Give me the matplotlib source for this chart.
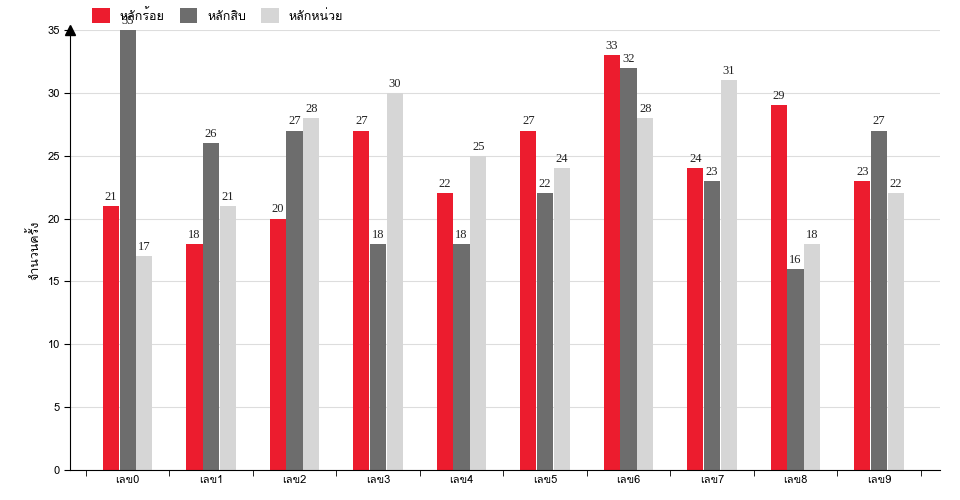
import numpy as np
import matplotlib.pyplot as plt
from matplotlib import font_manager
from matplotlib.ft2font import FT2Font

# find an installed family that has Thai glyphs
thai_family = None
for f in font_manager.fontManager.ttflist:
    try:
        if ord("ก") in FT2Font(f.fname).get_charmap():
            thai_family = f.name
            break
    except Exception:
        pass

families = ([thai_family] if thai_family else []) + ["Noto Sans", "DejaVu Sans"]
plt.rcParams['font.family'] = families

categories = ["เลข0", "เลข1", "เลข2", "เลข3", "เลข4", "เลข5", "เลข6", "เลข7", "เลข8", "เลข9"]
series_names = ["หลักร้อย", "หลักสิบ", "หลักหน่วย"]
hundreds = [21, 18, 20, 27, 22, 27, 33, 24, 29, 23]
tens = [35, 26, 27, 18, 18, 22, 32, 23, 16, 27]
units = [17, 21, 28, 30, 25, 24, 28, 31, 18, 22]
colors = ["#ec1c2e", "#6d6d6d", "#d6d6d6"]

fig = plt.figure(figsize=(9.6, 5.0), dpi=100)
ax = fig.add_axes([70 / 960, 30 / 500, 870 / 960, 440 / 500])

x = np.arange(len(categories))
w = 0.2
for i, (vals, c, name) in enumerate(zip([hundreds, tens, units], colors, series_names)):
    pos = x + (i - 1) * w
    ax.bar(pos, vals, width=w * 0.97, color=c, label=name, zorder=2)
    for p, v in zip(pos, vals):
        ax.text(p, v + 0.25, str(v), ha="center", va="bottom", fontsize=9,
                family="Liberation Serif", color="#222222", zorder=3)

ax.set_xlim(-0.69, len(categories) - 1 + 0.73)
ax.set_ylim(0, 35)
ax.set_yticks(range(0, 36, 5))
ax.set_xticks(x)
ax.set_xticklabels(categories, fontsize=8)
ax.tick_params(axis="y", labelsize=8, length=4)
ax.set_xticks(np.arange(-0.5, len(categories), 1), minor=True)
ax.tick_params(axis="x", which="minor", length=4)
ax.tick_params(axis="x", which="major", length=0)
ax.grid(axis="y", color="#dddddd", linewidth=0.8, zorder=0)
for s in ["top", "right"]:
    ax.spines[s].set_visible(False)
ax.set_ylabel("จำนวนครั้ง", fontsize=9)
ax.plot(0, 1.0, marker="^", color="black", markersize=7, transform=ax.transAxes,
        clip_on=False, zorder=4)
ax.plot(0, 1.04, marker="^", color="black", markersize=7, transform=ax.transAxes,
        clip_on=False, alpha=0)

ax.legend(loc="lower left", bbox_to_anchor=(0.02, 1.005), ncol=3, frameon=False,
          fontsize=9, handlelength=1.4, handleheight=1.4, columnspacing=1.2,
          borderaxespad=0.0)

fig.savefig("out.png", dpi=100)
